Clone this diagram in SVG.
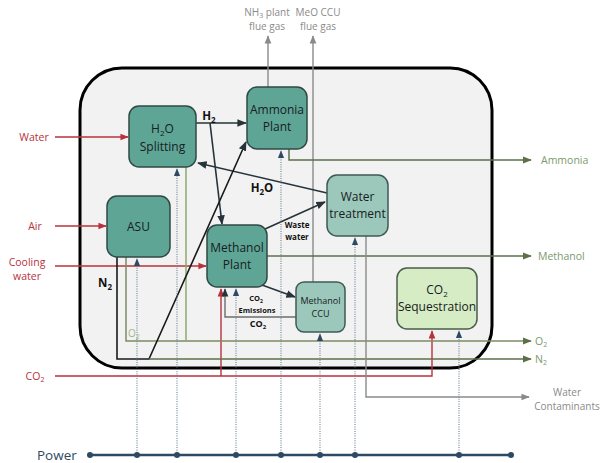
<svg xmlns="http://www.w3.org/2000/svg" width="612" height="463" viewBox="0 0 612 463">
  <style>
    text { font-family: "Open Sans", Lato, "Liberation Sans", sans-serif; }
    .node { fill: #5fa596; stroke: #2f4a44; stroke-width: 1.5; }
    .node-lt { fill: #9cc8bb; stroke: #3e5a54; stroke-width: 1.5; }
    .node-gr { fill: #d6ecc4; stroke: #4b5c4b; stroke-width: 1.5; }
    .lbl { font-size: 12px; fill: #16201e; text-anchor: middle; }
    .lbl-s { font-size: 9px; fill: #16201e; text-anchor: middle; }
    .red { stroke: #b8323c; stroke-width: 1.4; fill: none; }
    .dark { stroke: #26343a; stroke-width: 1.6; fill: none; }
    .grey { stroke: #8a8a8a; stroke-width: 1.4; fill: none; }
    .olive { stroke: #5c7048; stroke-width: 1.5; fill: none; }
    .blk { stroke: #1a1a1a; stroke-width: 1.6; fill: none; }
    .pwr { stroke: #6f8191; stroke-width: 1.1; stroke-dasharray: 1 1.3; fill: none; }
    .t-red { font-size: 10.5px; fill: #b8323c; text-anchor: middle; }
    .t-grn { font-size: 10.5px; fill: #7c9a6c; }
    .t-gry { font-size: 10px; fill: #8a8a8a; text-anchor: middle; }
    .t-bold { font-size: 11.5px; font-weight: bold; fill: #111; text-anchor: middle; }
    .t-bs { font-size: 8px; font-weight: bold; fill: #111; text-anchor: middle; }
  </style>
  <defs>
    <marker id="ah-red" viewBox="0 0 10 10" refX="9" refY="5" markerWidth="6" markerHeight="6" orient="auto"><path d="M0,1 L10,5 L0,9 z" fill="#b8323c"/></marker>
    <marker id="ah-dark" viewBox="0 0 10 10" refX="9" refY="5" markerWidth="6" markerHeight="6" orient="auto"><path d="M0,1 L10,5 L0,9 z" fill="#26343a"/></marker>
    <marker id="ah-grey" viewBox="0 0 10 10" refX="9" refY="5" markerWidth="6" markerHeight="6" orient="auto"><path d="M0,1 L10,5 L0,9 z" fill="#8a8a8a"/></marker>
    <marker id="ah-olive" viewBox="0 0 10 10" refX="9" refY="5" markerWidth="6" markerHeight="6" orient="auto"><path d="M0,1 L10,5 L0,9 z" fill="#5c7048"/></marker>
    <marker id="ah-pwr" viewBox="0 0 10 10" refX="9" refY="5" markerWidth="7" markerHeight="7" orient="auto"><path d="M0,1 L10,5 L0,9 z" fill="#2e4a62"/></marker>
  </defs>

  <!-- plant boundary -->
  <rect x="80" y="68" width="412" height="300" rx="42" fill="#f2f2f2" stroke="#000" stroke-width="3"/>

  <g id="connectors">
    <!-- flue gases -->
    <line class="grey" x1="268" y1="87" x2="268" y2="36" marker-end="url(#ah-grey)"/>
    <line class="grey" x1="313" y1="282" x2="313" y2="36" marker-end="url(#ah-grey)"/>
    <!-- feed streams -->
    <line class="red" x1="55" y1="137" x2="128" y2="137" marker-end="url(#ah-red)"/>
    <line class="red" x1="55" y1="226" x2="106" y2="226" marker-end="url(#ah-red)"/>
    <line class="red" x1="55" y1="266" x2="206" y2="266" marker-end="url(#ah-red)"/>
    <path class="red" d="M55,376 H432 V331" marker-end="url(#ah-red)"/>
    <line class="red" x1="221" y1="376" x2="221" y2="289" marker-end="url(#ah-red)"/>
    <!-- hydrogen -->
    <line class="dark" x1="196" y1="123" x2="246" y2="123" marker-end="url(#ah-dark)"/>
    <line class="dark" x1="210" y1="123" x2="222" y2="224" marker-end="url(#ah-dark)"/>
    <!-- water recycle and waste water -->
    <line class="dark" x1="327" y1="193" x2="198" y2="163" marker-end="url(#ah-dark)"/>
    <line class="dark" x1="265" y1="229" x2="325" y2="202" marker-end="url(#ah-dark)"/>
    <!-- methanol plant to CCU and CO2 return -->
    <line class="dark" x1="262" y1="285" x2="295" y2="297" marker-end="url(#ah-dark)"/>
    <path class="grey" style="stroke:#6d6d6d" d="M296,317 H225 V289" marker-end="url(#ah-dark)"/>
    <!-- products -->
    <path class="olive" d="M289,149 V160 H531" marker-end="url(#ah-olive)"/>
    <line class="olive" x1="267" y1="256" x2="531" y2="256" marker-end="url(#ah-olive)"/>
    <!-- oxygen -->
    <path class="olive" style="stroke:#7d8c66" d="M126,257 V341 H531" marker-end="url(#ah-olive)"/>
    <line class="olive" style="stroke:#8fa86c" x1="186" y1="167" x2="186" y2="341"/>
    <!-- nitrogen -->
    <path class="blk" d="M117,257 V359 H149 L246,142" marker-end="url(#ah-dark)"/>
    <line class="olive" x1="149" y1="359" x2="531" y2="359" marker-end="url(#ah-olive)"/>
    <!-- water contaminants -->
    <path class="grey" d="M366,236 V397 H529" marker-end="url(#ah-grey)"/>
    <!-- power supply -->
    <line x1="90" y1="455" x2="511" y2="455" stroke="#2e4a62" stroke-width="2.5"/>
    <line class="pwr" x1="137" y1="455" x2="137" y2="259" marker-end="url(#ah-pwr)"/>
    <line class="pwr" x1="177" y1="455" x2="177" y2="169" marker-end="url(#ah-pwr)"/>
    <line class="pwr" x1="236" y1="455" x2="236" y2="289" marker-end="url(#ah-pwr)"/>
    <line class="pwr" x1="281" y1="455" x2="281" y2="151" marker-end="url(#ah-pwr)"/>
    <line class="pwr" x1="320" y1="455" x2="320" y2="334" marker-end="url(#ah-pwr)"/>
    <line class="pwr" x1="355" y1="455" x2="355" y2="238" marker-end="url(#ah-pwr)"/>
    <line class="pwr" x1="459" y1="455" x2="459" y2="331" marker-end="url(#ah-pwr)"/>
    <g fill="#2e4a62">
      <circle cx="90" cy="455" r="3"/>
      <circle cx="137" cy="455" r="3"/>
      <circle cx="177" cy="455" r="3"/>
      <circle cx="236" cy="455" r="3"/>
      <circle cx="281" cy="455" r="3"/>
      <circle cx="320" cy="455" r="3"/>
      <circle cx="355" cy="455" r="3"/>
      <circle cx="459" cy="455" r="3"/>
      <circle cx="511" cy="455" r="3"/>
    </g>
  </g>

  <g id="h2o-splitting">
    <rect class="node" x="129" y="106" width="67" height="61" rx="10"/>
    <text class="lbl" x="162.5" y="133">H<tspan font-size="8" dy="3">2</tspan><tspan dy="-3">O</tspan></text>
    <text class="lbl" x="162.5" y="151">Splitting</text>
  </g>
  <g id="ammonia-plant">
    <rect class="node" x="247" y="87" width="60" height="62" rx="10"/>
    <text class="lbl" x="277" y="114">Ammonia</text>
    <text class="lbl" x="277" y="131">Plant</text>
  </g>
  <g id="asu">
    <rect class="node" x="107" y="196" width="63" height="61" rx="10"/>
    <text class="lbl" x="138.5" y="231">ASU</text>
  </g>
  <g id="methanol-plant">
    <rect class="node" x="207" y="225" width="60" height="62" rx="10"/>
    <text class="lbl" x="237" y="252">Methanol</text>
    <text class="lbl" x="237" y="269">Plant</text>
  </g>
  <g id="water-treatment">
    <rect class="node-lt" x="327" y="175" width="61" height="61" rx="10"/>
    <text class="lbl" x="357.5" y="201">Water</text>
    <text class="lbl" x="357.5" y="218">treatment</text>
  </g>
  <g id="methanol-ccu">
    <rect class="node-lt" x="296" y="282" width="49" height="50" rx="8"/>
    <text class="lbl-s" x="320.5" y="304">Methanol</text>
    <text class="lbl-s" x="320.5" y="317">CCU</text>
  </g>
  <g id="co2-sequestration">
    <rect class="node-gr" x="397" y="268" width="80" height="61" rx="10"/>
    <text class="lbl" x="437" y="294">CO<tspan font-size="8" dy="3">2</tspan></text>
    <text class="lbl" x="437" y="311">Sequestration</text>
  </g>

  <g id="labels">
    <text class="t-gry" x="267" y="16">NH<tspan font-size="7" dy="2">3</tspan><tspan dy="-2"> plant</tspan></text>
    <text class="t-gry" x="267" y="30">flue gas</text>
    <text class="t-gry" x="318" y="16">MeO CCU</text>
    <text class="t-gry" x="318" y="30">flue gas</text>
    <text class="t-red" x="34" y="141">Water</text>
    <text class="t-red" x="35" y="230">Air</text>
    <text class="t-red" x="27" y="266">Cooling</text>
    <text class="t-red" x="27" y="280">water</text>
    <text class="t-red" x="35" y="380">CO<tspan font-size="7" dy="2">2</tspan></text>
    <text class="t-bold" x="209" y="120">H<tspan font-size="8" dy="3">2</tspan></text>
    <text class="t-bold" x="262" y="192">H<tspan font-size="8" dy="3">2</tspan><tspan dy="-3">O</tspan></text>
    <text class="t-bs" x="297" y="228">Waste</text>
    <text class="t-bs" x="297" y="240">water</text>
    <text class="t-bs" style="font-size:7.5px" x="256" y="301">CO<tspan font-size="5" dy="1.5">2</tspan></text>
    <text class="t-bs" style="font-size:7.5px" x="257" y="313">Emissions</text>
    <text class="t-bs" style="font-size:9px" x="258" y="327">CO<tspan font-size="6" dy="2">2</tspan></text>
    <text class="t-bold" x="105" y="287">N<tspan font-size="8" dy="3">2</tspan></text>
    <text style="font-size:10px;fill:#9fb58a" x="128" y="337">O<tspan font-size="7" dy="2">2</tspan></text>
    <text class="t-grn" x="541" y="164">Ammonia</text>
    <text class="t-grn" x="538" y="260">Methanol</text>
    <text class="t-grn" x="535" y="345">O<tspan font-size="7" dy="2">2</tspan></text>
    <text class="t-grn" x="535" y="363">N<tspan font-size="7" dy="2">2</tspan></text>
    <text class="t-gry" x="567" y="396">Water</text>
    <text class="t-gry" x="567" y="410">Contaminants</text>
    <text x="37" y="460" style="font-size:13.5px;fill:#2e4a62">Power</text>
  </g>
</svg>
